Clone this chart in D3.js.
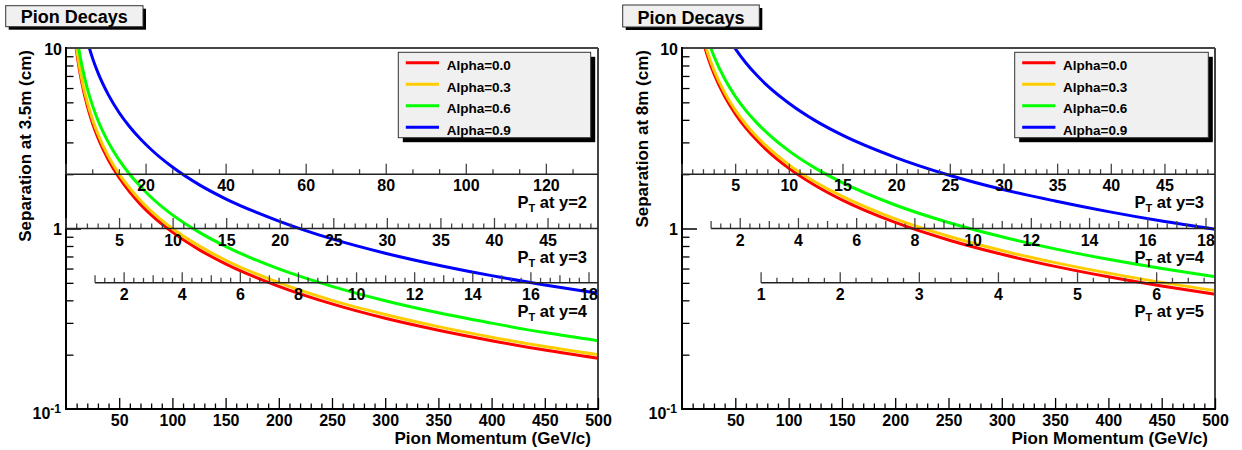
<!DOCTYPE html>
<html><head><meta charset="utf-8">
<script src="https://cdn.jsdelivr.net/npm/d3@7"></script>
<style>
body{margin:0;background:#fff;}
text{font-family:"Liberation Sans",Arial,Helvetica,sans-serif;font-weight:bold;fill:#000;}
</style></head><body>
<svg id="chart" width="1242" height="450"></svg>
<script>
// ---- data ----
const momentum = [6, 8, 10, 12, 15, 20, 25, 30, 40, 50, 60, 70, 80, 100, 125, 150, 200, 250, 300, 350, 400, 450, 500];
const alphaLabels = ["Alpha=0.0", "Alpha=0.3", "Alpha=0.6", "Alpha=0.9"];
const seriesColors = ["#ff0000", "#ffcc00", "#00ff00", "#0000ff"];

// separation at 3.5 m (cm)
const sep35_a00 = [15.9, 11.9, 9.55, 7.96, 6.37, 4.78, 3.82, 3.18, 2.39, 1.91, 1.59, 1.36, 1.19, 0.955, 0.764, 0.637, 0.478, 0.382, 0.318, 0.273, 0.239, 0.212, 0.191];
const sep35_a03 = [16.7, 12.5, 10.0, 8.34, 6.67, 5.01, 4.00, 3.34, 2.50, 2.00, 1.67, 1.43, 1.25, 1.00, 0.801, 0.667, 0.501, 0.400, 0.334, 0.286, 0.250, 0.222, 0.200];
const sep35_a06 = [19.9, 14.9, 11.9, 9.95, 7.96, 5.97, 4.78, 3.98, 2.99, 2.39, 1.99, 1.71, 1.49, 1.19, 0.955, 0.796, 0.597, 0.478, 0.398, 0.341, 0.299, 0.265, 0.239];
const sep35_a09 = [36.5, 27.4, 21.9, 18.3, 14.6, 11.0, 8.76, 7.30, 5.48, 4.38, 3.65, 3.13, 2.74, 2.19, 1.75, 1.46, 1.10, 0.876, 0.730, 0.626, 0.548, 0.487, 0.438];
// separation at 8 m (cm)
const sep8_a00 = [36.0, 27.0, 21.6, 18.0, 14.4, 10.8, 8.64, 7.20, 5.40, 4.32, 3.60, 3.09, 2.70, 2.16, 1.73, 1.44, 1.08, 0.864, 0.720, 0.617, 0.540, 0.480, 0.432];
const sep8_a03 = [37.7, 28.3, 22.6, 18.9, 15.1, 11.3, 9.06, 7.55, 5.66, 4.53, 3.77, 3.23, 2.83, 2.26, 1.81, 1.51, 1.13, 0.906, 0.755, 0.647, 0.566, 0.503, 0.453];
const sep8_a06 = [45.0, 33.8, 27.0, 22.5, 18.0, 13.5, 10.8, 9.00, 6.75, 5.40, 4.50, 3.86, 3.38, 2.70, 2.16, 1.80, 1.35, 1.08, 0.900, 0.771, 0.675, 0.600, 0.540];
const sep8_a09 = [82.6, 61.9, 49.6, 41.3, 33.0, 24.8, 19.8, 16.5, 12.4, 9.91, 8.26, 7.08, 6.19, 4.96, 3.96, 3.30, 2.48, 1.98, 1.65, 1.42, 1.24, 1.10, 0.991];

// tick labels
const momentumTicks = [50, 100, 150, 200, 250, 300, 350, 400, 450, 500];
const ptTicksY2 = [20, 40, 60, 80, 100, 120];
const ptTicksY3 = [5, 10, 15, 20, 25, 30, 35, 40, 45];
const ptTicksY4 = [2, 4, 6, 8, 10, 12, 14, 16, 18];
const ptTicksY5 = [1, 2, 3, 4, 5, 6];

const FONT = '"Liberation Sans",Arial,Helvetica,sans-serif';
const svg = d3.select("#chart");
svg.append("rect").attr("width", 1242).attr("height", 450).attr("fill", "#fff");

const panels = [
  { id: "L", left: 66, right: 598, top: 48, bottom: 409,
    box: [5.7, 5.7, 137.3, 21], legend: [398.3, 52.3, 192.4, 85.4],
    yTitle: "Separation at 3.5m (cm)", yTitleX: 31,
    series: [sep35_a00, sep35_a03, sep35_a06, sep35_a09],
    ptAxes: [
      { rapidity: 2, at: 2, ptMin: 0, ticks: ptTicksY2, major: 20, minor: 20 / 3, med: null },
      { rapidity: 3, at: 1, ptMin: 0, ticks: ptTicksY3, major: 5, minor: 1, med: null },
      { rapidity: 4, at: 0.5, ptMin: 1, ticks: ptTicksY4, major: 2, minor: 1 / 3, med: 1 }
    ] },
  { id: "R", left: 682, right: 1215, top: 48, bottom: 409,
    box: [622.7, 5, 136.6, 22], legend: [1014.7, 52.3, 193.6, 85.4],
    yTitle: "Separation at 8m (cm)", yTitleX: 647.5,
    series: [sep8_a00, sep8_a03, sep8_a06, sep8_a09],
    ptAxes: [
      { rapidity: 3, at: 2, ptMin: 0, ticks: ptTicksY3, major: 5, minor: 1, med: null },
      { rapidity: 4, at: 1, ptMin: 1, ticks: ptTicksY4, major: 2, minor: 1 / 3, med: 1 },
      { rapidity: 5, at: 0.5, ptMin: 1, ticks: ptTicksY5, major: 1, minor: 0.2, med: null }
    ] }
];

function isMult(v, step) {
  const r = v / step;
  return Math.abs(r - Math.round(r)) < 1e-6;
}

panels.forEach(p => {
  const g = svg.append("g");
  const x = d3.scaleLinear().domain([0, 500]).range([p.left, p.right]);
  const y = d3.scaleLog().domain([0.1, 10]).range([p.bottom, p.top]);

  // title box
  const [bx, by, bw, bh] = p.box;
  g.append("rect").attr("x", bx + 3).attr("y", by + 3).attr("width", bw).attr("height", bh).attr("fill", "#000");
  g.append("rect").attr("x", bx).attr("y", by).attr("width", bw).attr("height", bh)
    .attr("fill", "#f0f0f0").attr("stroke", "#333").attr("stroke-width", 1);
  g.append("text").attr("x", bx + bw / 2).attr("y", by + bh - 3.5).attr("text-anchor", "middle")
    .style("font-size", "18px").text("Pion Decays");

  // curves
  const clipId = "clip" + p.id;
  svg.append("clipPath").attr("id", clipId).append("rect")
    .attr("x", p.left).attr("y", p.top).attr("width", p.right - p.left).attr("height", p.bottom - p.top);
  const line = d3.line().x((d, i) => x(momentum[i])).y(d => y(d)).curve(d3.curveMonotoneX);
  p.series.forEach((s, i) => {
    g.append("path").datum(s).attr("clip-path", `url(#${clipId})`).attr("d", line)
      .attr("fill", "none").attr("stroke", seriesColors[i]).attr("stroke-width", 3);
  });

  // frame
  g.append("line").attr("x1", p.left).attr("x2", p.right).attr("y1", p.top).attr("y2", p.top).attr("stroke", "#444").attr("stroke-width", 2);
  g.append("line").attr("x1", p.right).attr("x2", p.right).attr("y1", p.top).attr("y2", p.bottom).attr("stroke", "#444").attr("stroke-width", 2);

  // bottom axis
  const xMinor = d3.range(10, 501, 10).filter(v => v % 50 !== 0);
  const xa = g.append("g").attr("transform", `translate(0,${p.bottom})`);
  xa.call(d3.axisBottom(x).tickValues(xMinor).tickSize(-5.5).tickSizeOuter(0).tickFormat(""));
  xa.call(g2 => g2.select(".domain").remove());
  const xa2 = g.append("g").attr("transform", `translate(0,${p.bottom})`);
  xa2.call(d3.axisBottom(x).tickValues(momentumTicks).tickSize(-11).tickSizeOuter(0).tickPadding(6).tickFormat(d3.format("d")));
  xa2.select(".domain").remove();
  xa2.selectAll("text").style("font-size", "16px").style("font-family", FONT).attr("fill", "#000");
  g.selectAll(".tick line").attr("stroke", "#000").attr("stroke-width", 1.3);
  g.append("line").attr("x1", p.left - 1).attr("x2", p.right + 1).attr("y1", p.bottom).attr("y2", p.bottom).attr("stroke", "#000").attr("stroke-width", 2);
  g.append("text").attr("x", p.right - 7).attr("y", 444).attr("text-anchor", "end").style("font-size", "17px").text("Pion Momentum (GeV/c)");

  // left axis (log)
  const yMinor = [0.2, 0.3, 0.4, 0.5, 0.6, 0.7, 0.8, 0.9, 2, 3, 4, 5, 6, 7, 8, 9];
  const ya = g.append("g").attr("transform", `translate(${p.left},0)`);
  ya.call(d3.axisLeft(y).tickValues(yMinor).tickSize(-7.5).tickSizeOuter(0).tickFormat(""));
  ya.select(".domain").remove();
  ya.selectAll(".tick line").attr("stroke", "#000").attr("stroke-width", 1.3);
  const ya2 = g.append("g").attr("transform", `translate(${p.left},0)`);
  ya2.call(d3.axisLeft(y).tickValues([1]).tickSize(-15).tickSizeOuter(0).tickFormat(""));
  ya2.select(".domain").remove();
  ya2.selectAll(".tick line").attr("stroke", "#000").attr("stroke-width", 1.5);
  g.append("line").attr("x1", p.left).attr("x2", p.left).attr("y1", p.top - 1).attr("y2", p.bottom + 1).attr("stroke", "#000").attr("stroke-width", 2);
  g.append("text").attr("x", p.left - 4).attr("y", y(10) + 7).attr("text-anchor", "end").style("font-size", "16px").text("10");
  g.append("text").attr("x", p.left - 4).attr("y", y(1) + 6.5).attr("text-anchor", "end").style("font-size", "16px").text("1");
  const t01 = g.append("text").attr("x", p.left - 5).attr("y", y(0.1) + 10).attr("text-anchor", "end").style("font-size", "16px");
  t01.append("tspan").text("10");
  t01.append("tspan").attr("dy", -6).style("font-size", "12px").text("-1");

  g.append("text").attr("transform", `translate(${p.yTitleX},50) rotate(-90)`).attr("text-anchor", "end")
    .style("font-size", "17px").text(p.yTitle);

  // pT axes for fixed rapidity
  p.ptAxes.forEach(a => {
    const ch = Math.cosh(a.rapidity);
    const ptMax = 500 / ch;
    const sx = d3.scaleLinear().domain([a.ptMin, ptMax]).range([x(a.ptMin * ch), x(500)]);
    const ay = y(a.at);
    const ag = g.append("g").attr("transform", `translate(0,${ay})`);
    const n = Math.floor((ptMax - a.ptMin) / a.minor + 1e-6);
    const all = d3.range(0, n + 1).map(k => a.ptMin + k * a.minor);
    const len = v => isMult(v, a.major) ? 10.5 : (a.med && isMult(v, a.med) ? 7.5 : 5);
    ag.selectAll("line.tk").data(all).join("line").attr("class", "tk")
      .attr("x1", d => sx(d)).attr("x2", d => sx(d)).attr("y1", 0).attr("y2", d => -len(d))
      .attr("stroke", "#444").attr("stroke-width", 1.3);
    ag.append("line").attr("x1", sx(a.ptMin)).attr("x2", sx(ptMax)).attr("y1", 0).attr("y2", 0)
      .attr("stroke", "#222").attr("stroke-width", 1.5);
    ag.selectAll("text.lb").data(a.ticks).join("text").attr("class", "lb")
      .attr("x", d => sx(d)).attr("y", 17).attr("text-anchor", "middle").style("font-size", "16px").text(d => d);
    const tt = ag.append("text").attr("x", p.right - 11).attr("y", 34).attr("text-anchor", "end").style("font-size", "16.5px");
    tt.append("tspan").text("P");
    tt.append("tspan").attr("dy", 4).style("font-size", "11px").text("T");
    tt.append("tspan").attr("dy", -4).text(" at y=" + a.rapidity);
  });

  // legend
  const [lx, ly, lw, lh] = p.legend;
  g.append("rect").attr("x", lx + 4.5).attr("y", ly + 4.5).attr("width", lw).attr("height", lh).attr("fill", "#000");
  g.append("rect").attr("x", lx).attr("y", ly).attr("width", lw).attr("height", lh)
    .attr("fill", "#f0f0f0").attr("stroke", "#333").attr("stroke-width", 1);
  alphaLabels.forEach((lab, i) => {
    const yy = ly + 10.4 + i * 21.5;
    g.append("line").attr("x1", lx + 7.5).attr("x2", lx + 40.7).attr("y1", yy).attr("y2", yy)
      .attr("stroke", seriesColors[i]).attr("stroke-width", 3);
    g.append("text").attr("x", lx + 48.4).attr("y", yy + 7.5).style("font-size", "13.5px").text(lab);
  });
});
</script>
</body></html>
